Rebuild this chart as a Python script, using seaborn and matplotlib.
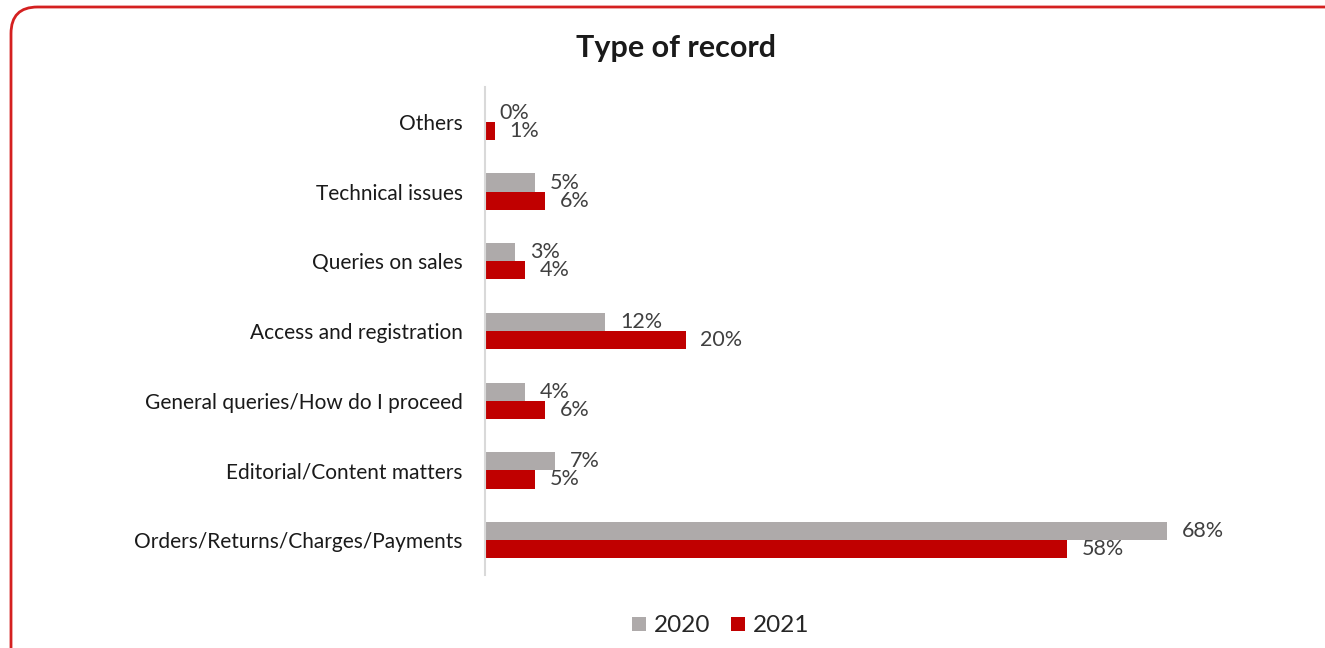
import matplotlib
matplotlib.use("Agg")
import matplotlib.pyplot as plt
from matplotlib.patches import FancyBboxPatch, Patch
import seaborn as sns
import pandas as pd

categories = [
    "Others",
    "Technical issues",
    "Queries on sales",
    "Access and registration",
    "General queries/How do I proceed",
    "Editorial/Content matters",
    "Orders/Returns/Charges/Payments",
]
values_2020 = [0, 5, 3, 12, 4, 7, 68]
values_2021 = [1, 6, 4, 20, 6, 5, 58]
years = ["2020", "2021"]
colors = {"2020": "#AEAAAA", "2021": "#C00000"}

df = pd.DataFrame({
    "category": categories * 2,
    "value": values_2020 + values_2021,
    "year": [years[0]] * len(categories) + [years[1]] * len(categories),
})

sns.set_theme(style="white")
plt.rcParams["font.family"] = ["Lato", "DejaVu Sans"]

fig = plt.figure(figsize=(13.25, 6.48), dpi=100)
W, H = 1325, 648
ax = fig.add_axes([485 / W, 1 - 575 / H, (1225 - 485) / W, (575 - 87) / H])

sns.barplot(data=df, y="category", x="value", hue="year", order=categories,
            hue_order=years, palette=colors, width=0.52, orient="h",
            saturation=1, linewidth=0, ax=ax, legend=False)

ax.set_xlim(0, (1225 - 485) / 10.03)
ax.set_ylim(6.5, -0.5)
ax.set_xlabel("")
ax.set_ylabel("")
ax.set_xticks([])
for side in ["top", "right", "bottom"]:
    ax.spines[side].set_visible(False)
ax.spines["left"].set_color("#D9D9D9")
ax.spines["left"].set_linewidth(1.5)
ax.tick_params(axis="y", length=0, pad=16, labelsize=15, labelcolor="#1A1A1A")

for container in ax.containers:
    ax.bar_label(container, labels=[f"{v:.0f}%" for v in container.datavalues],
                 padding=10.5, fontsize=15.5, color="#404040")

# Title
fig.text(676 / W, 1 - 48 / H, "Type of record", ha="center", va="center",
         fontsize=22, fontweight="bold", color="#1A1A1A")

# Legend
handles = [Patch(facecolor=colors[y], edgecolor="none", label=y) for y in years]
fig.legend(handles=handles, loc="center", bbox_to_anchor=(721 / W, 1 - 626 / H),
           ncol=2, frameon=False, fontsize=17.5, handlelength=0.55, handleheight=0.55,
           handletextpad=0.35, columnspacing=0.85)

# Rounded red frame
frame = FancyBboxPatch((11 / W, -0.1), 1.2, (648 - 7) / H + 0.1,
                       boxstyle="round,pad=0,rounding_size=0.02",
                       transform=fig.transFigure, facecolor="none",
                       edgecolor="#D42020", linewidth=2, clip_on=False,
                       mutation_aspect=W / H)
fig.patches.append(frame)

fig.savefig("out.png", dpi=100)
